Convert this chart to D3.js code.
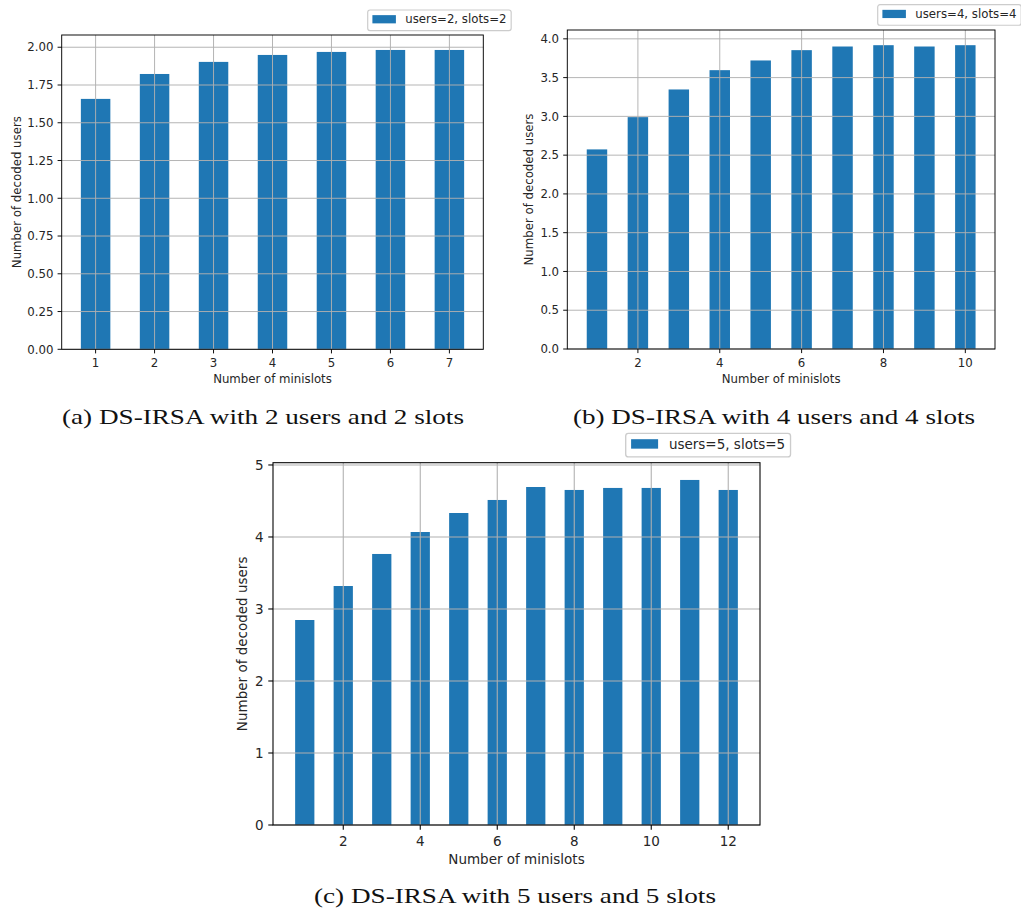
<!DOCTYPE html>
<html><head><meta charset="utf-8">
<script src="https://cdn.jsdelivr.net/npm/d3@7"></script>
<style>body{margin:0;background:#fff} svg{display:block}</style>
</head><body>
<svg id="chart" width="1021" height="911"></svg>
<script>
// ---------- data ----------
const minislotsA = [1, 2, 3, 4, 5, 6, 7];
const decodedA   = [1.658, 1.823, 1.903, 1.949, 1.969, 1.982, 1.982];
const xTicksA    = [1, 2, 3, 4, 5, 6, 7];
const yTicksA    = [0, 0.25, 0.5, 0.75, 1.0, 1.25, 1.5, 1.75, 2.0];
const legendA    = "users=2, slots=2";
const captionA   = "(a) DS-IRSA with 2 users and 2 slots";

const minislotsB = [1, 2, 3, 4, 5, 6, 7, 8, 9, 10];
const decodedB   = [2.574, 2.990, 3.347, 3.596, 3.721, 3.854, 3.901, 3.918, 3.901, 3.918];
const xTicksB    = [2, 4, 6, 8, 10];
const yTicksB    = [0, 0.5, 1.0, 1.5, 2.0, 2.5, 3.0, 3.5, 4.0];
const legendB    = "users=4, slots=4";
const captionB   = "(b) DS-IRSA with 4 users and 4 slots";

const minislotsC = [1, 2, 3, 4, 5, 6, 7, 8, 9, 10, 11, 12];
const decodedC   = [2.847, 3.319, 3.764, 4.069, 4.333, 4.514, 4.694, 4.653, 4.681, 4.681, 4.792, 4.653];
const xTicksC    = [2, 4, 6, 8, 10, 12];
const yTicksC    = [0, 1, 2, 3, 4, 5];
const legendC    = "users=5, slots=5";
const captionC   = "(c) DS-IRSA with 5 users and 5 slots";

const xLabelText = "Number of minislots";
const yLabelText = "Number of decoded users";

// ---------- layout ----------
const panels = [
  {x: minislotsA, y: decodedA, xTicks: xTicksA, yTicks: yTicksA, fmt: d3.format(".2f"),
   legend: legendA, caption: captionA,
   l: 61.7, r: 483.3, t: 35, b: 349.3, k: 1.175,
   tickBase: 366.5, xlabBase: 383, ylabX: 20.5, leg: [367.7, 10], cap: [263, 424]},
  {x: minislotsB, y: decodedB, xTicks: xTicksB, yTicks: yTicksB, fmt: d3.format(".1f"),
   legend: legendB, caption: captionB,
   l: 567.3, r: 995, t: 30, b: 349, k: 1.175,
   tickBase: 366.5, xlabBase: 383, ylabX: 533, leg: [877.7, 4.7], cap: [774, 424]},
  {x: minislotsC, y: decodedC, xTicks: xTicksC, yTicks: yTicksC, fmt: d3.format("d"),
   legend: legendC, caption: captionC,
   l: 273, r: 760, t: 462.7, b: 825, k: 1.35,
   tickBase: 845.5, xlabBase: 864, ylabX: 246.5, leg: [625.7, 433.3], cap: [515, 902.5]}
];

const BLUE = "#1f77b4", GRID = "#b0b0b0";
const svg = d3.select("#chart");
svg.append("rect").attr("width", 1021).attr("height", 911).attr("fill", "#fff");

panels.forEach(p => {
  const k = p.k, fs = 10 * k;
  const xmin = d3.min(p.x) - 0.25, xmax = d3.max(p.x) + 0.25, span = xmax - xmin;
  const x = d3.scaleLinear().domain([xmin - 0.05 * span, xmax + 0.05 * span]).range([p.l, p.r]);
  const y = d3.scaleLinear().domain([0, d3.max(p.y) * 1.05]).range([p.b, p.t]);
  const g = svg.append("g").attr("font-family", "DejaVu Sans, sans-serif").attr("fill", "#000");

  // bars
  g.selectAll("rect.bar").data(p.x.map((v, i) => [v, p.y[i]])).join("rect")
    .attr("class", "bar")
    .attr("x", d => x(d[0] - 0.25)).attr("width", d => x(d[0] + 0.25) - x(d[0] - 0.25))
    .attr("y", d => y(d[1])).attr("height", d => y(0) - y(d[1]))
    .attr("fill", BLUE);

  // grid (above bars)
  g.selectAll("line.gy").data(p.yTicks).join("line").attr("class", "gy")
    .attr("x1", p.l).attr("x2", p.r).attr("y1", d => y(d)).attr("y2", d => y(d))
    .attr("stroke", GRID).attr("stroke-width", 0.8 * k);
  g.selectAll("line.gx").data(p.xTicks).join("line").attr("class", "gx")
    .attr("x1", d => x(d)).attr("x2", d => x(d)).attr("y1", p.t).attr("y2", p.b)
    .attr("stroke", GRID).attr("stroke-width", 0.8 * k);

  // spines
  g.append("rect").attr("x", p.l).attr("y", p.t).attr("width", p.r - p.l).attr("height", p.b - p.t)
    .attr("fill", "none").attr("stroke", "#000").attr("stroke-width", 0.8 * k);

  // y ticks
  const tl = 3.5 * k;
  g.selectAll("line.ty").data(p.yTicks).join("line").attr("class", "ty")
    .attr("x1", p.l - tl).attr("x2", p.l).attr("y1", d => y(d)).attr("y2", d => y(d))
    .attr("stroke", "#000").attr("stroke-width", 0.8 * k);
  g.selectAll("text.ty").data(p.yTicks).join("text").attr("class", "ty")
    .attr("x", p.l - tl - 3.5 * k).attr("y", d => y(d)).attr("dy", "0.36em")
    .attr("text-anchor", "end").attr("font-size", fs).attr("fill", "#262626")
    .text(d => p.fmt(d));

  // x ticks
  g.selectAll("line.tx").data(p.xTicks).join("line").attr("class", "tx")
    .attr("x1", d => x(d)).attr("x2", d => x(d)).attr("y1", p.b).attr("y2", p.b + tl)
    .attr("stroke", "#000").attr("stroke-width", 0.8 * k);
  g.selectAll("text.tx").data(p.xTicks).join("text").attr("class", "tx")
    .attr("x", d => x(d)).attr("y", p.tickBase)
    .attr("text-anchor", "middle").attr("font-size", fs).attr("fill", "#262626")
    .text(d => d);

  // axis labels
  g.append("text").attr("x", (p.l + p.r) / 2).attr("y", p.xlabBase)
    .attr("text-anchor", "middle").attr("font-size", fs).attr("fill", "#262626").text(xLabelText);
  g.append("text").attr("transform", `translate(${p.ylabX},${(p.t + p.b) / 2}) rotate(-90)`)
    .attr("text-anchor", "middle").attr("font-size", fs).attr("fill", "#262626").text(yLabelText);

  // legend
  const lg = g.append("g");
  const [lx, ly] = p.leg;
  const h = 1.75 * fs;
  const box = lg.append("rect");
  const handleX = lx + 0.4 * fs, handleW = 2 * fs, handleH = 0.7 * fs;
  const cy = ly + 0.45 * h;
  lg.append("rect").attr("x", handleX).attr("y", cy - handleH / 2)
    .attr("width", handleW).attr("height", handleH).attr("fill", BLUE);
  const t = lg.append("text").attr("x", handleX + handleW + 0.8 * fs).attr("y", cy).attr("dy", "0.36em")
    .attr("font-size", fs).attr("fill", "#262626").text(p.legend);
  const tw = t.node().getComputedTextLength();
  const w = 0.4 * fs + handleW + 0.8 * fs + tw + 0.4 * fs;
  box.attr("x", lx).attr("y", ly).attr("width", w).attr("height", h)
    .attr("rx", 0.2 * fs).attr("ry", 0.2 * fs)
    .attr("fill", "#fff").attr("fill-opacity", 0.8)
    .attr("stroke", "#cccccc").attr("stroke-width", k);

  // caption
  svg.append("text").attr("x", p.cap[0]).attr("y", p.cap[1])
    .attr("text-anchor", "middle").attr("font-family", "Liberation Serif, serif")
    .attr("font-size", 21).attr("fill", "#111")
    .attr("textLength", 402).attr("lengthAdjust", "spacingAndGlyphs")
    .text(p.caption);
});
</script>
</body></html>
